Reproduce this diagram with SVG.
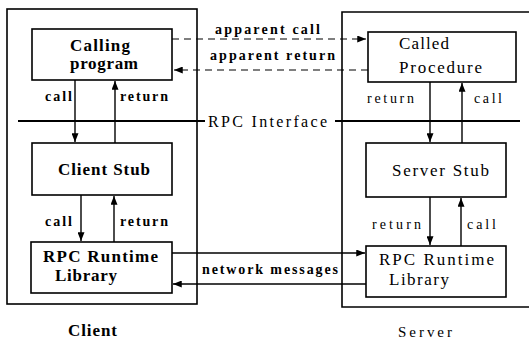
<svg xmlns="http://www.w3.org/2000/svg" width="529" height="339" viewBox="0 0 529 339">
<defs>
<marker id="ah" viewBox="0 0 10 8" refX="10" refY="4" markerWidth="9" markerHeight="7" markerUnits="userSpaceOnUse" orient="auto">
<path d="M0,0 L10,4 L0,8 Z" fill="#000"/>
</marker>
</defs>
<rect width="529" height="339" fill="#fff"/>
<g id="client">
<rect x="7" y="9" width="190" height="295" fill="none" stroke="#000" stroke-width="1.6"/>
<text font-family="Liberation Serif" font-weight="bold" font-size="17" x="68" y="336" textLength="49" lengthAdjust="spacing">Client</text>
</g>
<g id="server">
<path d="M535,12 L342,12 L342,307 L535,307" fill="none" stroke="#000" stroke-width="1.6"/>
<text font-family="Liberation Serif" font-size="15" x="398" y="337" textLength="54" lengthAdjust="spacing">Server</text>
</g>
<g id="calling-program">
<rect x="32" y="29" width="140" height="51" fill="none" stroke="#000" stroke-width="1.6"/>
<text font-family="Liberation Serif" font-weight="bold" font-size="17" x="70" y="51" textLength="60" lengthAdjust="spacing">Calling</text>
<text font-family="Liberation Serif" font-weight="bold" font-size="17" x="70" y="69" textLength="68" lengthAdjust="spacing">program</text>
</g>
<g id="called-procedure">
<rect x="368" y="32" width="148" height="50" fill="none" stroke="#000" stroke-width="1.6"/>
<text font-family="Liberation Serif" font-size="17" x="399" y="49" textLength="50" lengthAdjust="spacing">Called</text>
<text font-family="Liberation Serif" font-size="17" x="399" y="73" textLength="83" lengthAdjust="spacing">Procedure</text>
</g>
<g id="client-stub">
<rect x="32" y="143" width="140" height="52" fill="none" stroke="#000" stroke-width="1.6"/>
<text font-family="Liberation Serif" font-weight="bold" font-size="17" x="58" y="175" textLength="92" lengthAdjust="spacing">Client Stub</text>
</g>
<g id="server-stub">
<rect x="366" y="143" width="140" height="54" fill="none" stroke="#000" stroke-width="1.6"/>
<text font-family="Liberation Serif" font-size="17" x="392" y="176" textLength="97" lengthAdjust="spacing">Server Stub</text>
</g>
<g id="client-rpc-runtime">
<rect x="31" y="242" width="141" height="51" fill="none" stroke="#000" stroke-width="1.6"/>
<text font-family="Liberation Serif" font-weight="bold" font-size="17" x="43" y="262" textLength="115" lengthAdjust="spacing">RPC Runtime</text>
<text font-family="Liberation Serif" font-weight="bold" font-size="17" x="55" y="281" textLength="62" lengthAdjust="spacing">Library</text>
</g>
<g id="server-rpc-runtime">
<rect x="366" y="246" width="140" height="51" fill="none" stroke="#000" stroke-width="1.6"/>
<text font-family="Liberation Serif" font-size="17" x="379" y="265" textLength="115" lengthAdjust="spacing">RPC Runtime</text>
<text font-family="Liberation Serif" font-size="17" x="389" y="285" textLength="60" lengthAdjust="spacing">Library</text>
</g>
<g id="rpc-interface">
<line x1="18" y1="121" x2="205" y2="121" stroke="#000" stroke-width="2"/>
<line x1="335" y1="121" x2="520" y2="121" stroke="#000" stroke-width="2"/>
<text font-family="Liberation Serif" font-size="16" x="208" y="127" textLength="119" lengthAdjust="spacing">RPC Interface</text>
</g>
<g id="connectors" fill="none" stroke="#000" stroke-width="1.4">
<line x1="172" y1="39" x2="366" y2="39" stroke-dasharray="7,5" stroke-width="1.2" marker-end="url(#ah)"/>
<line x1="368" y1="70" x2="174" y2="70" stroke-dasharray="7,5" stroke-width="1.2" marker-end="url(#ah)"/>
<line x1="75" y1="80" x2="75" y2="142" marker-end="url(#ah)"/>
<line x1="115" y1="143" x2="115" y2="81" marker-end="url(#ah)"/>
<line x1="81" y1="195" x2="81" y2="241" marker-end="url(#ah)"/>
<line x1="114" y1="242" x2="114" y2="196" marker-end="url(#ah)"/>
<line x1="430" y1="82" x2="430" y2="142" marker-end="url(#ah)"/>
<line x1="462" y1="143" x2="462" y2="83" marker-end="url(#ah)"/>
<line x1="430" y1="197" x2="430" y2="245" marker-end="url(#ah)"/>
<line x1="461" y1="246" x2="461" y2="198" marker-end="url(#ah)"/>
<line x1="172" y1="253" x2="365" y2="253" marker-end="url(#ah)"/>
<line x1="366" y1="284" x2="173" y2="284" marker-end="url(#ah)"/>
</g>
<g id="labels" fill="#000" stroke="none">
<text font-family="Liberation Serif" font-weight="bold" font-size="14" x="215" y="34" textLength="105" lengthAdjust="spacing">apparent call</text>
<text font-family="Liberation Serif" font-weight="bold" font-size="14" x="210" y="60" textLength="125" lengthAdjust="spacing">apparent return</text>
<text font-family="Liberation Serif" font-weight="bold" font-size="14" x="202" y="274" textLength="136" lengthAdjust="spacing">network messages</text>
<text font-family="Liberation Serif" font-weight="bold" font-size="14" x="45" y="101" textLength="27" lengthAdjust="spacing">call</text>
<text font-family="Liberation Serif" font-weight="bold" font-size="14" x="120" y="101" textLength="48" lengthAdjust="spacing">return</text>
<text font-family="Liberation Serif" font-weight="bold" font-size="14" x="45" y="226" textLength="27" lengthAdjust="spacing">call</text>
<text font-family="Liberation Serif" font-weight="bold" font-size="14" x="120" y="226" textLength="48" lengthAdjust="spacing">return</text>
<text font-family="Liberation Serif" font-size="14" x="367" y="103" textLength="47" lengthAdjust="spacing">return</text>
<text font-family="Liberation Serif" font-size="14" x="474" y="103" textLength="28" lengthAdjust="spacing">call</text>
<text font-family="Liberation Serif" font-size="14" x="372" y="229" textLength="49" lengthAdjust="spacing">return</text>
<text font-family="Liberation Serif" font-size="14" x="467" y="229" textLength="29" lengthAdjust="spacing">call</text>
</g>
</svg>
